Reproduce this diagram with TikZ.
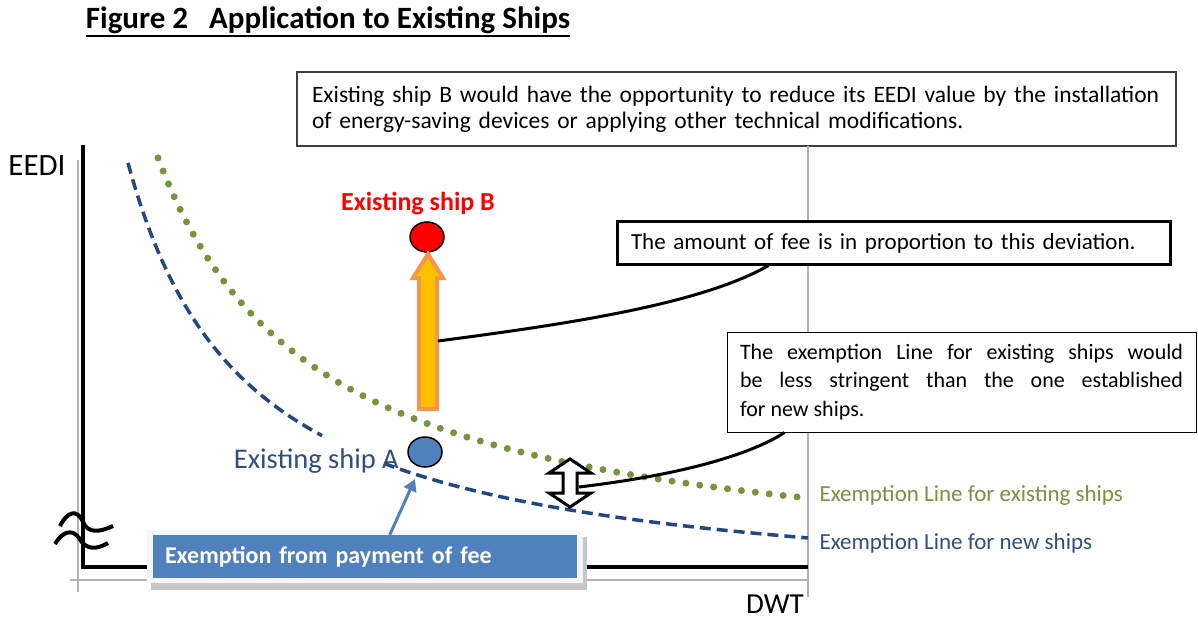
\documentclass[tikz,border=0pt]{standalone}
\usepackage{fontspec}
\setmainfont{Carlito}
\usetikzlibrary{positioning,shapes.geometric,arrows.meta}

\definecolor{exgreen}{HTML}{77933C}
\definecolor{newblue}{HTML}{23477F}
\definecolor{textblue}{HTML}{2F4F7F}
\definecolor{feeblue}{HTML}{4F81BD}
\definecolor{arroworange}{HTML}{F79646}
\definecolor{arrowgold}{HTML}{FFC000}

\tikzset{
  notebox/.style={draw, fill=white, inner sep=0pt},
  connector/.style={line width=3pt},
  shipdot/.style={ellipse, draw, line width=1.5pt, minimum width=34pt, minimum height=30pt, inner sep=0pt},
  axisgray/.style={gray!60, line width=1.2pt},
  exline/.style={exgreen, line width=7pt, line cap=round, dash pattern=on 0pt off 14pt},
  newline/.style={newblue, line width=3.5pt, dash pattern=on 11pt off 6pt}
}

\begin{document}
\begin{tikzpicture}[x=1pt, y=-1pt]
\useasboundingbox (0,0) rectangle (1198,620);

% Title
\node[font=\bfseries\fontsize{31}{34}\selectfont, inner sep=0pt] (title) at (328,20) {Figure 2\ \ \ Application to Existing Ships};
\draw[line width=2pt] ([yshift=-2pt]title.south west) -- ([yshift=-2pt]title.south east);

% Top note
\node[notebox, draw=black!75, line width=1.2pt, minimum width=879pt, minimum height=74pt, text width=849pt, align=left, font=\fontsize{23.5}{26}\selectfont] (topnote) at (736.5,109)
  {Existing ship B would have the opportunity to reduce its EEDI value by the installation\\ of energy-saving devices or applying other technical modifications.};

% Axes
\draw[axisgray] (78,160) -- (78,592);
\draw[axisgray] (70,580) -- (808,580);
\draw[axisgray] (808,146) -- (808,597);
\draw[line width=4pt] (83,145) -- (83,567) -- (808,567);
\node[font=\fontsize{31}{34}\selectfont] (eedi) at (37,166) {EEDI};
\node[font=\fontsize{29}{32}\selectfont, inner sep=0pt] (dwt) at (775,604) {DWT};

% Axis break
\draw[line width=4pt] (60,526) .. controls (67,512) and (77,508) .. (83,522) .. controls (88,534) and (100,532) .. (113,526);
\draw[line width=4pt] (55,544) .. controls (62,532) and (72,528) .. (79,538) .. controls (86,550) and (96,550) .. (108,543);

% Exemption lines
\draw[exline] plot[domain=158:807, samples=120] (\x, {582.2 - 681.78/((\x+2.72)/100)});
\draw[newline] plot[domain=128:322, samples=60] (\x, {604 - 528.24/((\x-8.23)/100)});
\draw[newline] plot[domain=384:808, samples=60] (\x, {604 - 528.24/((\x-8.23)/100)});

% Ships
\node[red, font=\bfseries\fontsize{26}{28}\selectfont] (labelB) at (418,204) {Existing ship B};
\node[shipdot, fill=red] (shipB) at (427,237) {};
\node[textblue, font=\fontsize{28.5}{30}\selectfont, anchor=east, inner sep=0pt] (labelA) at (399,461) {Existing ship A};
\node[shipdot, fill=feeblue] (shipA) at (425,452) {};

% Orange arrow
\draw[arroworange, line width=4pt, fill=arrowgold, line join=miter] (428,254) -- (443,278) -- (437,278) -- (437,409) -- (419,409) -- (419,278) -- (413,278) -- cycle;
\coordinate (orangemid) at (438,341);

% Double arrow between the lines
\draw[line width=3pt, fill=white, line join=miter] (570,459) -- (591,473) -- (577,473) -- (577,493) -- (591,493) -- (570,507) -- (549,493) -- (563,493) -- (563,473) -- (549,473) -- cycle;
\coordinate (gapmid) at (579,487);

% Notes on the right
\node[notebox, line width=3pt, minimum width=553pt, minimum height=42pt, text width=525pt, align=left, font=\fontsize{23}{25}\selectfont] (feebox) at (893.5,243) {The amount of fee is in proportion to this deviation.};
\node[notebox, line width=1pt, minimum width=469pt, minimum height=100pt, text width=443pt, align=justify, font=\fontsize{22}{28.5}\selectfont] (exnote) at (961.5,382)
  {The exemption Line for existing ships would\linebreak be less stringent than the one established\linebreak for new ships.};
\draw[connector] (orangemid) .. controls (560,325) and (700,305) .. ([xshift=153pt]feebox.south west);
\draw[connector] (gapmid) .. controls (680,475) and (750,455) .. ([xshift=58pt]exnote.south west);

% Legend of the lines
\node[exgreen, font=\fontsize{23}{26}\selectfont, anchor=west] (exlabel) at (816,495) {Exemption Line for existing ships};
\node[textblue, font=\fontsize{23}{26}\selectfont, anchor=west] (newlabel) at (816,543) {Exemption Line for new ships};

% Exemption from payment
\fill[gray!45] (151,537) rectangle (587,590);
\fill[blue!4] (147,530) rectangle (583,583);
\node[fill=feeblue, text=white, font=\bfseries\fontsize{24}{26}\selectfont, minimum width=424pt, minimum height=43pt, text width=400pt, align=left, inner sep=0pt] (exempt) at (365,556.5) {Exemption from payment of fee};
\coordinate (feepoint) at (415,479);
\draw[feeblue, line width=3pt, -{Triangle[length=12pt,width=13pt]}] ([xshift=237pt]exempt.north west) -- (feepoint);
\end{tikzpicture}
\end{document}
